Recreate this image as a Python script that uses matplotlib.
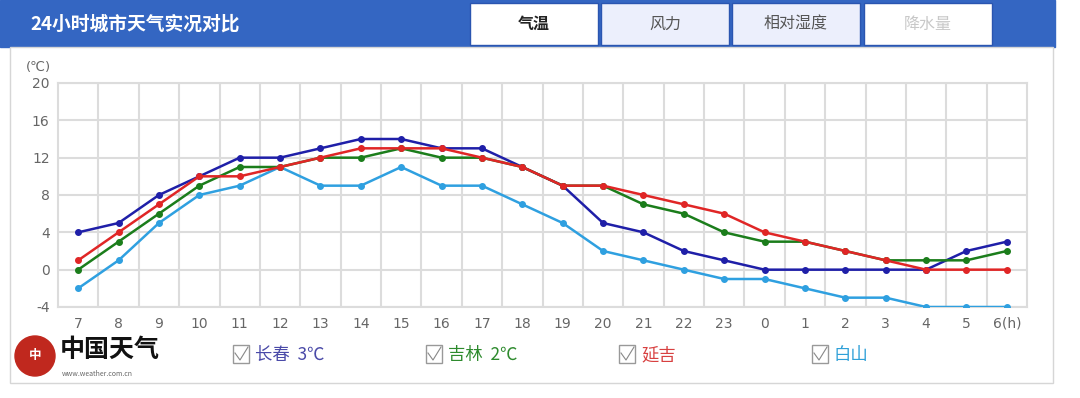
import numpy as np
import matplotlib
matplotlib.use('Agg')
import matplotlib.pyplot as plt
from matplotlib.patches import Rectangle, Circle

plt.rcParams['font.family'] = ['Noto Sans CJK SC', 'DejaVu Sans']

hours = ['7', '8', '9', '10', '11', '12', '13', '14', '15', '16', '17', '18',
         '19', '20', '21', '22', '23', '0', '1', '2', '3', '4', '5', '6(h)']
changchun = [4, 5, 8, 10, 12, 12, 13, 14, 14, 13, 13, 11,
             9, 5, 4, 2, 1, 0, 0, 0, 0, 0, 2, 3]
jilin = [0, 3, 6, 9, 11, 11, 12, 12, 13, 12, 12, 11,
         9, 9, 7, 6, 4, 3, 3, 2, 1, 1, 1, 2]
yanji = [1, 4, 7, 10, 10, 11, 12, 13, 13, 13, 12, 11,
         9, 9, 8, 7, 6, 4, 3, 2, 1, 0, 0, 0]
baishan = [-2, 1, 5, 8, 9, 11, 9, 9, 11, 9, 9, 7,
           5, 2, 1, 0, -1, -1, -2, -3, -3, -4, -4, -4]
yticks = [-4, 0, 4, 8, 12, 16, 20]
tabs = ['气温', '风力', '相对湿度', '降水量']
legend_names = ['长春  3℃', '吉林  2℃', '延吉', '白山']

W, H = 1080, 398
fig = plt.figure(figsize=(W / 100, H / 100), dpi=100)

# background layer in pixel coordinates
bg = fig.add_axes([0, 0, 1, 1])
bg.set_xlim(0, W)
bg.set_ylim(H, 0)
bg.axis('off')

bg.add_patch(Rectangle((0, 0), 1055, 47, color='#3466c2', zorder=1))
bg.add_patch(Rectangle((10, 47), 1043, 336, facecolor='white',
                       edgecolor='#d6d6d6', lw=1, zorder=1))
bg.text(30, 24, '24小时城市天气实况对比', color='white', fontsize=13.5,
        fontweight='bold', va='center', ha='left', zorder=3)

tab_x = [470, 601, 732, 864]
tab_bg = ['white', '#eceffc', '#eceffc', 'white']
tab_fg = ['#222222', '#555555', '#555555', '#c8c8c8']
for i, t in enumerate(tabs):
    bg.add_patch(Rectangle((tab_x[i], 3), 128, 42, facecolor=tab_bg[i],
                           edgecolor='#2a55b0', lw=1, zorder=2))
    bg.text(tab_x[i] + 64, 24, t, color=tab_fg[i], fontsize=11.5,
            fontweight='bold' if i == 0 else 'normal',
            ha='center', va='center', zorder=3)

bg.text(26, 68, '(℃)', color='#666666', fontsize=9.5, ha='left', va='center',
        family=['DejaVu Sans'])

# logo
bg.add_patch(Circle((35, 356), 20, color='#c0281e', zorder=2))
bg.text(35, 356, '中', color='white', fontsize=9, ha='center', va='center',
        fontweight='bold', zorder=3)
bg.text(60, 350, '中国天气', color='#111111', fontsize=18, fontweight='bold',
        ha='left', va='center', zorder=3)
bg.text(62, 374, 'www.weather.com.cn', color='#666666', fontsize=5,
        ha='left', va='center', zorder=3)

colors = ['#1f1fa8', '#1b7d1b', '#e02626', '#2fa0e0']
text_colors = ['#4a4aa8', '#2e8b2e', '#d84040', '#2fa0d8']
leg_x = [233, 426, 619, 812]
for i, name in enumerate(legend_names):
    bg.add_patch(Rectangle((leg_x[i], 345), 16, 18, facecolor='white',
                           edgecolor='#999999', lw=1, zorder=2))
    bg.plot([leg_x[i] + 2, leg_x[i] + 7, leg_x[i] + 15],
            [353, 360, 347], color='#888888', lw=0.8, zorder=3)
    bg.text(leg_x[i] + 22, 355, name, color=text_colors[i], fontsize=12.5,
            ha='left', va='center', zorder=3)

# chart
ax = fig.add_axes([58 / W, 1 - 307 / H, 969 / W, 224 / H])
x = np.arange(len(hours))
series = [baishan, changchun, jilin, yanji]
series_colors = [colors[3], colors[0], colors[1], colors[2]]
for vals, c in zip(series, series_colors):
    ax.plot(x, vals, color=c, lw=1.8, marker='o', markersize=4, zorder=3)

ax.set_xlim(-0.5, len(hours) - 0.5)
ax.set_ylim(-4, 20)
ax.set_yticks(yticks)
ax.set_yticklabels([str(v) for v in yticks], color='#666666', fontsize=10,
                   family=['DejaVu Sans'])
ax.set_xticks(x)
ax.set_xticklabels(hours, color='#666666', fontsize=10, family=['DejaVu Sans'])
ax.set_xticks(np.arange(0.5, len(hours) - 0.5, 1), minor=True)
ax.tick_params(axis='both', which='both', length=0)
ax.tick_params(axis='x', pad=7)
ax.tick_params(axis='y', pad=6)
ax.grid(True, axis='x', which='minor', color='#dcdcdc', lw=1.5)
ax.grid(True, axis='y', which='major', color='#dcdcdc', lw=1.5)
ax.grid(False, axis='x', which='major')
for s in ax.spines.values():
    s.set_color('#dcdcdc')
    s.set_linewidth(1.5)

fig.savefig('out.png', dpi=100)
